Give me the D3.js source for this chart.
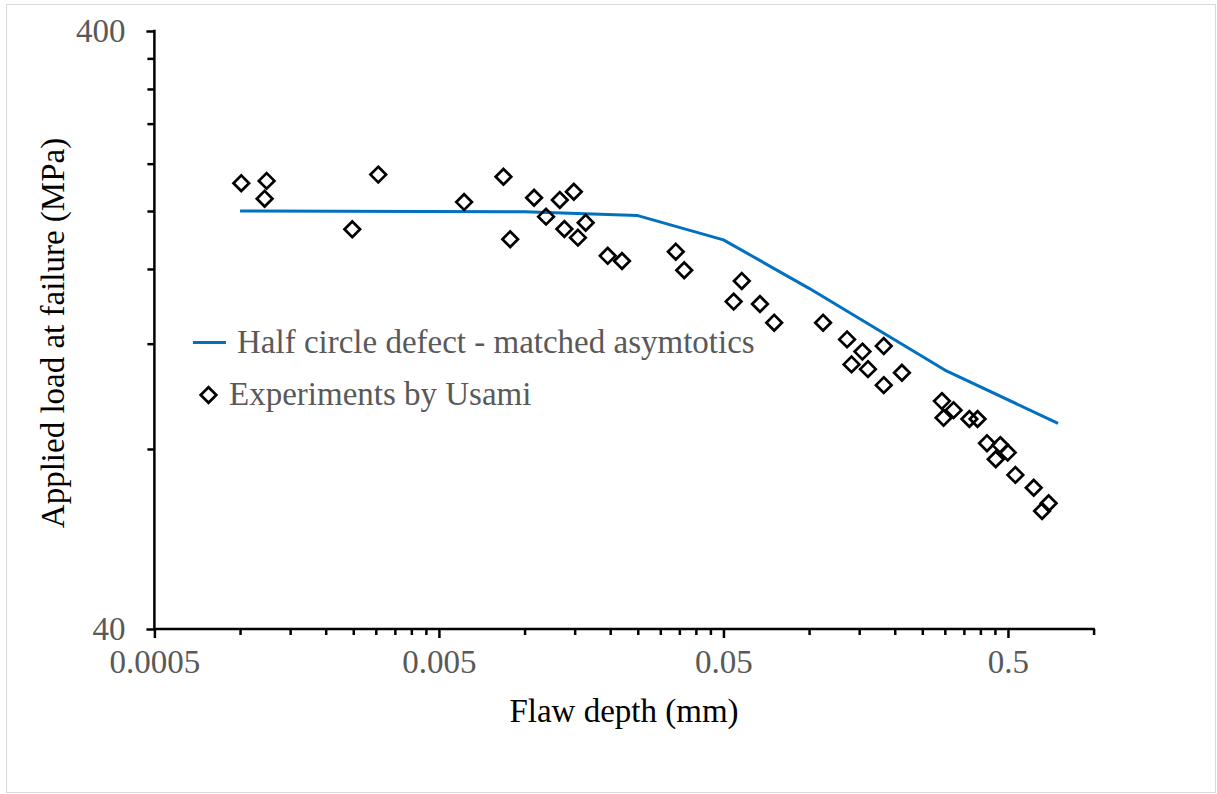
<!DOCTYPE html>
<html>
<head>
<meta charset="utf-8">
<script src="https://cdn.jsdelivr.net/npm/d3@7"></script>
<style>
  html, body { margin: 0; padding: 0; background: #fff; }
  svg { display: block; }
  text { font-family: "Liberation Serif", "Times New Roman", serif; }
</style>
</head>
<body>
<svg id="chart" width="1217" height="794"></svg>
<script>
// ---- data ----
const modelDepth = [0.001, 0.01, 0.025, 0.05, 0.1, 0.3, 0.75];
const modelLoad  = [200, 199.5, 196.5, 179, 148.5, 108.4, 88.3];

const expDepth = [0.00101, 0.00124, 0.00122, 0.00306, 0.00248, 0.00613, 0.00843, 0.0089, 0.0108, 0.0119,
                  0.0133, 0.0149, 0.0138, 0.0164, 0.0154, 0.0196, 0.0220, 0.034, 0.0364, 0.058,
                  0.0543, 0.0672, 0.0754, 0.112, 0.136, 0.154, 0.183, 0.141, 0.161, 0.212,
                  0.183, 0.293, 0.322, 0.297, 0.366, 0.391, 0.422, 0.470, 0.499, 0.453,
                  0.531, 0.616, 0.695, 0.659];
const expLoad  = [222.6, 224.6, 209.7, 230.1, 186.4, 207, 228.2, 179.4, 210.5, 195.7,
                  208.7, 215.4, 186.6, 191.2, 180.5, 168.3, 165, 171, 159.2, 152.8,
                  141.1, 139.8, 130.1, 130.1, 122, 116.4, 118.9, 110.8, 108.8, 107.3,
                  102.3, 96.2, 92.9, 90.2, 89.8, 89.8, 81.8, 81.2, 78.9, 76.9,
                  72.4, 68.9, 64.9, 63.0];

const xDomain = [0.0005, 1];
const yDomain = [40, 400];
const xMajorTicks = [0.0005, 0.005, 0.05, 0.5];
const xTickLabels = ["0.0005", "0.005", "0.05", "0.5"];
const yMajorTicks = [40, 400];
const yTickLabels = ["40", "400"];

const seriesNames = ["Half circle defect - matched asymtotics", "Experiments by Usami"];
const xTitle = "Flaw depth (mm)";
const yTitle = "Applied load at failure (MPa)";

// ---- layout ----
const svg = d3.select("#chart");
const plot = { left: 154.4, right: 1093.6, top: 31, bottom: 629 };
const FS = 33;
const grey = "#595959";
const blue = "#0070C0";
const serif = "'Liberation Serif', 'Times New Roman', serif";

svg.append("rect")
  .attr("x", 6.5).attr("y", 4.5).attr("width", 1209).attr("height", 788)
  .attr("fill", "#fff").attr("stroke", "#d9d9d9").attr("stroke-width", 1);

const x = d3.scaleLog().domain(xDomain).range([plot.left, plot.right]);
const y = d3.scaleLog().domain(yDomain).range([plot.bottom, plot.top]);

// minor tick positions (multiples of the base, as a log axis does)
const xMinor = [];
[0.0005, 0.005, 0.05, 0.5].forEach(b => { for (let k = 2; k <= 9; k++) { const v = b * k; if (v <= xDomain[1] + 1e-9) xMinor.push(v); } });
const yMinor = [];
for (let k = 2; k <= 9; k++) yMinor.push(40 * k);

// X axis
const gx = svg.append("g").attr("transform", `translate(0,${plot.bottom})`);
gx.call(d3.axisBottom(x).tickValues(xMinor).tickSize(6).tickFormat(""))
  .call(g => g.select(".domain").remove());
gx.append("g").call(d3.axisBottom(x).tickValues(xMajorTicks).tickSize(9)
    .tickFormat((d, i) => xTickLabels[i]).tickPadding(12))
  .call(g => g.select(".domain").remove());
gx.selectAll(".tick line").attr("stroke", "#000").attr("stroke-width", 2.5);
gx.selectAll(".tick text").attr("fill", grey).attr("font-size", FS).attr("font-family", serif);
gx.append("line").attr("x1", plot.left - 1).attr("x2", plot.right + 1.2).attr("y1", 0).attr("y2", 0)
  .attr("stroke", "#000").attr("stroke-width", 2.5);

// Y axis
const gy = svg.append("g").attr("transform", `translate(${plot.left},0)`);
gy.call(d3.axisLeft(y).tickValues(yMinor).tickSize(7).tickFormat(""))
  .call(g => g.select(".domain").remove());
gy.append("g").call(d3.axisLeft(y).tickValues(yMajorTicks).tickSize(8)
    .tickFormat((d, i) => yTickLabels[i]).tickPadding(21))
  .call(g => g.select(".domain").remove());
gy.selectAll(".tick line").attr("stroke", "#000").attr("stroke-width", 2.5);
gy.selectAll(".tick text").attr("fill", grey).attr("font-size", FS).attr("font-family", serif);
gy.append("line").attr("x1", 0).attr("x2", 0).attr("y1", plot.top - 1.2).attr("y2", plot.bottom + 1)
  .attr("stroke", "#000").attr("stroke-width", 2.5);

// Axis titles
svg.append("text").attr("x", 624).attr("y", 722).attr("text-anchor", "middle")
  .attr("font-size", FS).attr("fill", "#000").text(xTitle);
svg.append("text").attr("transform", "translate(64,333) rotate(-90)").attr("text-anchor", "middle")
  .attr("font-size", FS).attr("fill", "#000").text(yTitle);

// Model line
const modelData = modelDepth.map((d, i) => ({ x: d, y: modelLoad[i] }));
svg.append("path").datum(modelData)
  .attr("fill", "none").attr("stroke", blue).attr("stroke-width", 3).attr("stroke-linejoin", "round")
  .attr("d", d3.line().x(d => x(d.x)).y(d => y(d.y)));

// Experimental points (diamonds)
const r = 7.8;
const diamond = `M0,${-r}L${r},0L0,${r}L${-r},0Z`;
const expData = expDepth.map((d, i) => ({ x: d, y: expLoad[i] }));
svg.append("g").selectAll("path").data(expData).join("path")
  .attr("transform", d => `translate(${x(d.x)},${y(d.y)})`)
  .attr("d", diamond).attr("fill", "none").attr("stroke", "#000").attr("stroke-width", 2.7);

// Legend
const lg = svg.append("g");
lg.append("line").attr("x1", 193).attr("x2", 226).attr("y1", 342.5).attr("y2", 342.5)
  .attr("stroke", blue).attr("stroke-width", 3);
lg.append("text").attr("x", 237).attr("y", 352.5).attr("font-size", FS).attr("fill", grey).text(seriesNames[0]);
lg.append("path").attr("transform", "translate(208.5,395)").attr("d", diamond)
  .attr("fill", "none").attr("stroke", "#000").attr("stroke-width", 2.7);
lg.append("text").attr("x", 229).attr("y", 405).attr("font-size", FS).attr("fill", grey).text(seriesNames[1]);
</script>
</body>
</html>
